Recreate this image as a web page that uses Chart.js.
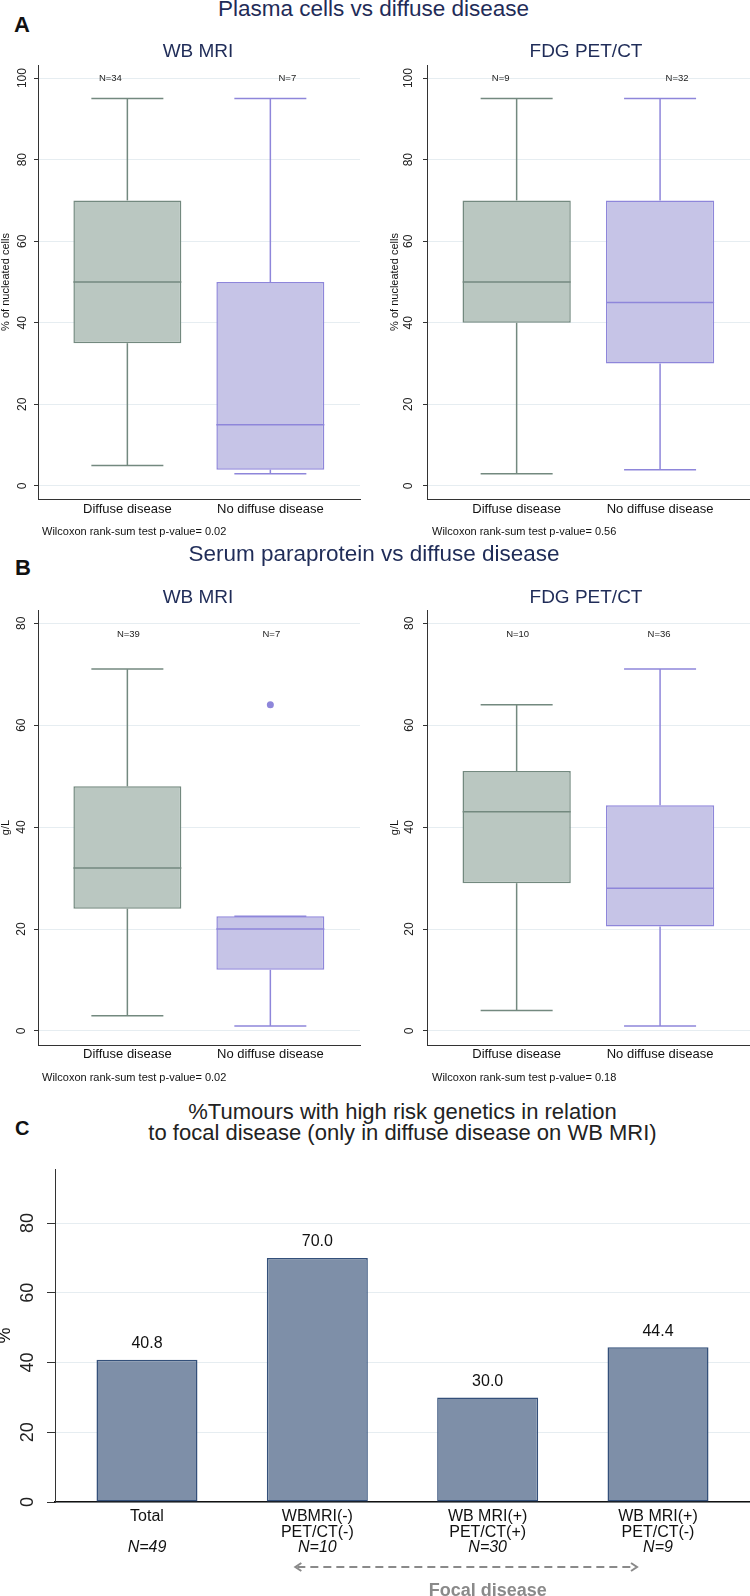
<!DOCTYPE html>
<html>
<head>
<meta charset="utf-8">
<script src="https://cdn.jsdelivr.net/npm/chart.js@4.4.0/dist/chart.umd.min.js"></script>
<style>
  html, body { margin: 0; background: #fff; }
  body { width: 750px; height: 1596px; position: relative; overflow: hidden; font-family: "Liberation Sans", Arial, sans-serif; }
  .t { position: absolute; line-height: 1; white-space: nowrap; }
  canvas { position: absolute; }
</style>
</head>
<body>
<canvas id="plasmaMri" width="375" height="479" style="left:0;top:50px"></canvas>
<canvas id="plasmaPet" width="361" height="479" style="left:389px;top:50px"></canvas>
<canvas id="serumMri" width="375" height="480" style="left:0;top:595px"></canvas>
<canvas id="serumPet" width="361" height="480" style="left:389px;top:595px"></canvas>
<canvas id="focal" width="750" height="446" style="left:0;top:1150px"></canvas>

<script>
const FONT = '"Liberation Sans", Arial, sans-serif';
Chart.defaults.font.family = FONT;

// ---- panels A and B: box plots ----
const boxCats = ['Diffuse disease', 'No diffuse disease'];

const plasmaMriLow = [5, 3];
const plasmaMriQ1 = [35, 4];
const plasmaMriMed = [50, 15];
const plasmaMriQ3 = [70, 50];
const plasmaMriHigh = [95, 95];
const plasmaMriN = ['N=34', 'N=7'];

const plasmaPetLow = [3, 4];
const plasmaPetQ1 = [40, 30];
const plasmaPetMed = [50, 45];
const plasmaPetQ3 = [70, 70];
const plasmaPetHigh = [95, 95];
const plasmaPetN = ['N=9', 'N=32'];

const serumMriLow = [3, 1];
const serumMriQ1 = [24, 12];
const serumMriMed = [32, 20];
const serumMriQ3 = [48, 22.5];
const serumMriHigh = [71, 22.5];
const serumMriOut = [null, 64];
const serumMriN = ['N=39', 'N=7'];

const serumPetLow = [4, 1];
const serumPetQ1 = [29, 20.5];
const serumPetMed = [43, 28];
const serumPetQ3 = [51, 44.3];
const serumPetHigh = [64, 71];
const serumPetN = ['N=10', 'N=36'];

const plasmaTicks = [0, 20, 40, 60, 80, 100];
const serumTicks = [0, 20, 40, 60, 80];

// ---- panel C: bar chart ----
const focalCats = [['Total'], ['WBMRI(-)', 'PET/CT(-)'], ['WB MRI(+)', 'PET/CT(+)'], ['WB MRI(+)', 'PET/CT(-)']];
const focalN = ['N=49', 'N=10', 'N=30', 'N=9'];
const focalPct = [40.8, 70.0, 30.0, 44.4];
const focalTicks = [0, 20, 40, 60, 80];

const fillCol = ['#bac7c1', '#c6c4e7'];
const lineCol = ['#73897f', '#8e86da'];
const gridCol = '#e6edf1';
const navy = '#1f2c58';

function txt(s, x, base, size, o = {}) {
  const d = document.createElement('div');
  d.className = 't';
  d.textContent = s;
  d.style.fontSize = size + 'px';
  d.style.top = (base - 0.8465 * size) + 'px';
  d.style.left = x + 'px';
  if (o.center) d.style.transform = 'translateX(-50%)';
  if (o.bold) d.style.fontWeight = 'bold';
  d.style.color = o.color || '#111';
  document.body.appendChild(d);
}

function boxChart(id, g) {
  const nLabels = {
    id: 'nLabels',
    afterDatasetsDraw(chart) {
      const { ctx, scales: { x, y } } = chart;
      ctx.save();
      ctx.font = '9.5px ' + FONT;
      ctx.fillStyle = '#222';
      ctx.textAlign = 'center';
      ctx.textBaseline = 'middle';
      g.n.forEach((t, i) => ctx.fillText(t, x.getPixelForValue(i) + g.nShift[i], y.getPixelForValue(g.nY)));
      ctx.restore();
    }
  };
  const pts = arr => arr.map((v, i) => ({ x: i, y: v }));
  const capLine = (data, r) => ({
    type: 'line', data: pts(data), showLine: false, pointStyle: 'line', pointRadius: r,
    pointBorderColor: lineCol, pointBorderWidth: 1.5, order: 0
  });
  return new Chart(document.getElementById(id), {
    data: {
      datasets: [
        { type: 'bar', data: boxCats.map((c, i) => ({ x: i, y: [g.q1[i], g.q3[i]] })), backgroundColor: fillCol,
          borderColor: lineCol, borderWidth: 1.5, borderSkipped: false, grouped: false,
          barPercentage: 0.755, categoryPercentage: 1, order: 1 },
        { type: 'bar', data: boxCats.map((c, i) => ({ x: i, y: [g.q3[i], g.high[i]] })), backgroundColor: lineCol,
          grouped: false, barPercentage: 0.05, maxBarThickness: 1.5, categoryPercentage: 1, order: 2 },
        { type: 'bar', data: boxCats.map((c, i) => ({ x: i, y: [g.low[i], g.q1[i]] })), backgroundColor: lineCol,
          grouped: false, barPercentage: 0.05, maxBarThickness: 1.5, categoryPercentage: 1, order: 2 },
        capLine(g.med, 54),
        capLine(g.high, 36),
        capLine(g.low, 36),
        { type: 'line', data: pts(g.out || [null, null]), showLine: false, pointStyle: 'circle', pointRadius: 3.5,
          pointBackgroundColor: lineCol, pointBorderWidth: 0, order: 0 }
      ]
    },
    options: {
      responsive: false, animation: false, events: [],
      layout: { autoPadding: false, padding: { top: 15, right: g.padRight, bottom: 0, left: 0 } },
      plugins: { legend: { display: false }, tooltip: { enabled: false } },
      scales: {
        x: {
          type: 'linear', min: -0.625, max: 1.627, offset: false,
          afterBuildTicks(s) { s.ticks = boxCats.map((c, i) => ({ value: i })); },
          grid: { display: false, drawTicks: false },
          border: { display: true, color: '#333', width: 1 },
          ticks: { callback: v => boxCats[v], font: { size: 13 }, color: '#111', padding: g.xPad, maxRotation: 0, autoSkip: false },
          afterFit(s) { s.height = 30; s.paddingLeft = 0; s.paddingRight = 0; }
        },
        y: {
          min: g.min, max: g.max,
          afterBuildTicks(s) { s.ticks = g.ticks.map(v => ({ value: v })); },
          grid: { color: gridCol, tickColor: '#333', tickLength: 4 },
          border: { display: true, color: '#333', width: 1 },
          ticks: { font: { size: 12 }, color: '#222', minRotation: 90, maxRotation: 90, crossAlign: 'center', padding: g.tickPad },
          title: { display: true, text: g.yTitle, font: { size: 11, lineHeight: 1 }, color: '#111', padding: 0 },
          afterFit(s) { s.width = 38; s.paddingTop = 0; s.paddingBottom = 0; }
        }
      }
    },
    plugins: [nLabels]
  });
}

const drawCharts = () => {
  // --- A: plasma cells ---
  boxChart('plasmaMri', { low: plasmaMriLow, q1: plasmaMriQ1, med: plasmaMriMed, q3: plasmaMriQ3, high: plasmaMriHigh,
    n: plasmaMriN, nShift: [-17, 17], nY: 99.8, ticks: plasmaTicks, min: -3.2, max: 103.2,
    yTitle: '% of nucleated cells', padRight: 15, xPad: 3, tickPad: 1.7 });
  boxChart('plasmaPet', { low: plasmaPetLow, q1: plasmaPetQ1, med: plasmaPetMed, q3: plasmaPetQ3, high: plasmaPetHigh,
    n: plasmaPetN, nShift: [-16, 17], nY: 99.8, ticks: plasmaTicks, min: -3.2, max: 103.2,
    yTitle: '% of nucleated cells', padRight: 0, xPad: 3, tickPad: 4.6 });

  // --- B: serum paraprotein ---
  boxChart('serumMri', { low: serumMriLow, q1: serumMriQ1, med: serumMriMed, q3: serumMriQ3, high: serumMriHigh,
    out: serumMriOut, n: serumMriN, nShift: [1, 1], nY: 77.8, ticks: serumTicks, min: -2.75, max: 82.6,
    yTitle: 'g/L', padRight: 15, xPad: 2, tickPad: 5.8 });
  boxChart('serumPet', { low: serumPetLow, q1: serumPetQ1, med: serumPetMed, q3: serumPetQ3, high: serumPetHigh,
    n: serumPetN, nShift: [1, -1], nY: 77.8, ticks: serumTicks, min: -2.75, max: 82.6,
    yTitle: 'g/L', padRight: 0, xPad: 2, tickPad: 6.6 });

  // --- C: high risk genetics vs focal disease ---
  const valueLabels = {
    id: 'valueLabels',
    afterDatasetsDraw(chart) {
      const ctx = chart.ctx;
      ctx.save();
      ctx.font = '16px ' + FONT;
      ctx.fillStyle = '#111';
      ctx.textAlign = 'center';
      ctx.textBaseline = 'middle';
      chart.getDatasetMeta(0).data.forEach((bar, i) => ctx.fillText(focalPct[i].toFixed(1), bar.x, bar.y - 16));
      ctx.restore();
    }
  };
  const focalArrow = {
    id: 'focalArrow',
    afterDraw(chart) {
      const { ctx, scales: { x, x2 } } = chart;
      const y = x2.bottom + 11;
      const x1 = x.getPixelForValue(1) - 22, xe = x.getPixelForValue(3) - 21;
      ctx.save();
      ctx.strokeStyle = '#8a8a8a';
      ctx.lineWidth = 2;
      ctx.setLineDash([8, 5]);
      ctx.beginPath(); ctx.moveTo(x1 + 2, y); ctx.lineTo(xe - 2, y); ctx.stroke();
      ctx.setLineDash([]);
      ctx.beginPath();
      ctx.moveTo(x1 + 6, y - 4); ctx.lineTo(x1, y); ctx.lineTo(x1 + 6, y + 4);
      ctx.moveTo(xe - 6, y - 4); ctx.lineTo(xe, y); ctx.lineTo(xe - 6, y + 4);
      ctx.stroke();
      ctx.font = 'bold 18px ' + FONT;
      ctx.fillStyle = '#8a8a8a';
      ctx.textAlign = 'center';
      ctx.textBaseline = 'alphabetic';
      ctx.fillText('Focal disease', x.getPixelForValue(2), x2.bottom + 40);
      ctx.restore();
    }
  };
  new Chart(document.getElementById('focal'), {
    type: 'bar',
    data: {
      datasets: [{ data: focalPct.map((v, i) => ({ x: i, y: v })), backgroundColor: '#7e8fa8', borderColor: '#34507a',
        borderWidth: 1.5, borderSkipped: false, barPercentage: 0.593, categoryPercentage: 1 }]
    },
    options: {
      responsive: false, animation: false, events: [],
      layout: { autoPadding: false, padding: { top: 19, right: 0, bottom: 40, left: 0 } },
      plugins: { legend: { display: false }, tooltip: { enabled: false } },
      scales: {
        x: {
          type: 'linear', min: -0.54, max: 3.54, offset: false,
          afterBuildTicks(s) { s.ticks = focalCats.map((c, i) => ({ value: i })); },
          grid: { display: false, drawTicks: false },
          border: { display: true, color: '#111', width: 1.5 },
          ticks: { callback: v => focalCats[v], font: { size: 16, lineHeight: 0.97 }, color: '#111', padding: 7, maxRotation: 0, autoSkip: false },
          afterFit(s) { s.height = 38; s.paddingLeft = 0; s.paddingRight = 0; }
        },
        x2: {
          type: 'linear', min: -0.54, max: 3.54, offset: false, position: 'bottom',
          afterBuildTicks(s) { s.ticks = focalN.map((c, i) => ({ value: i })); },
          grid: { display: false, drawTicks: false }, border: { display: false },
          ticks: { callback: v => focalN[v], font: { size: 16, style: 'italic', lineHeight: 0.97 }, color: '#111', padding: 0, maxRotation: 0, autoSkip: false },
          afterFit(s) { s.height = 16; s.paddingLeft = 0; s.paddingRight = 0; }
        },
        y: {
          min: 0, max: 95.5,
          afterBuildTicks(s) { s.ticks = focalTicks.map(v => ({ value: v })); },
          grid: { color: gridCol, tickColor: '#333', tickLength: 8 },
          border: { display: true, color: '#333', width: 1 },
          ticks: { font: { size: 18 }, color: '#222', minRotation: 90, maxRotation: 90, crossAlign: 'center', padding: 9 },
          title: { display: true, text: '%', font: { size: 18, lineHeight: 1 }, color: '#111', padding: { top: -4, bottom: 0 } },
          afterFit(s) { s.width = 55; s.paddingTop = 0; s.paddingBottom = 0; }
        }
      }
    },
    plugins: [valueLabels, focalArrow]
  });

  // --- titles and notes ---
  txt('A', 14, 32.5, 22, { bold: true });
  txt('Plasma cells vs diffuse disease', 373.5, 17, 22.5, { center: true, color: navy });
  txt('WB MRI', 198, 57.3, 19, { center: true, color: navy });
  txt('FDG PET/CT', 586, 57.3, 19, { center: true, color: navy });
  txt('Wilcoxon rank-sum test p-value= 0.02', 42, 535, 11);
  txt('Wilcoxon rank-sum test p-value= 0.56', 432, 535, 11);

  txt('B', 15, 576, 22, { bold: true });
  txt('Serum paraprotein vs diffuse disease', 374, 562, 22.5, { center: true, color: navy });
  txt('WB MRI', 198, 603.5, 19, { center: true, color: navy });
  txt('FDG PET/CT', 586, 603.5, 19, { center: true, color: navy });
  txt('Wilcoxon rank-sum test p-value= 0.02', 42, 1081.5, 11);
  txt('Wilcoxon rank-sum test p-value= 0.18', 432, 1081.5, 11);

  txt('C', 15, 1135, 20, { bold: true });
  txt('%Tumours with high risk genetics in relation', 402.5, 1120, 22, { center: true, color: '#222' });
  txt('to focal disease (only in diffuse disease on WB MRI)', 402.5, 1141, 22, { center: true, color: '#222' });
};

window.onload = drawCharts;
</script>
</body>
</html>
